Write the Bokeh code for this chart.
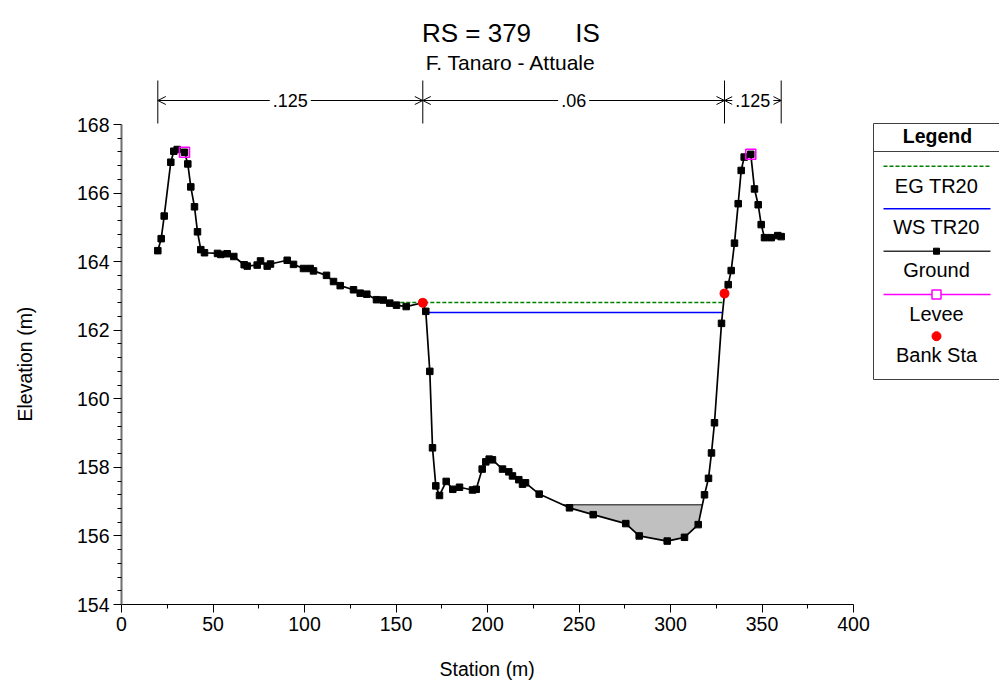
import numpy as np
from bokeh.plotting import figure
from bokeh.models import Label, Arrow, OpenHead, FixedTicker, Range1d, Title
from bokeh.embed import file_html
from bokeh.resources import INLINE

# ---------------- data ----------------
ground_sta = [19.84, 21.69, 23.33, 26.94, 28.58, 30.44, 34.43, 36.23, 37.87, 39.89,
              41.53, 43.33, 45.36, 52.46, 54.26, 57.76, 61.37, 67.05, 68.69, 74.15,
              75.96, 79.62, 81.42, 90.55, 93.99, 99.45, 103.11, 104.92, 112.02, 115.85,
              119.51, 126.78, 130.44, 134.04, 139.34, 143.01, 146.61, 150.27, 155.57, 164.64,
              166.28, 168.47, 169.95, 171.75, 173.77, 177.43, 181.04, 184.70, 191.80, 193.83,
              197.10, 199.07, 200.93, 202.73, 208.20, 211.64, 213.66, 217.10, 219.13, 220.77,
              228.25, 244.81, 257.76, 275.57, 282.90, 298.20, 307.65, 315.14, 318.58, 320.77,
              322.40, 324.04, 327.87, 329.51, 331.53, 333.17, 334.97, 336.99, 338.63, 340.27,
              343.88, 345.90, 347.92, 349.56, 351.37, 355.03, 358.63, 360.49]
ground_elev = [164.32, 164.67, 165.33, 166.90, 167.22, 167.27, 167.19, 166.85, 166.18, 165.60,
               164.87, 164.35, 164.26, 164.24, 164.21, 164.23, 164.15, 163.91, 163.87, 163.90,
               164.02, 163.87, 163.93, 164.04, 163.92, 163.80, 163.80, 163.73, 163.60, 163.42,
               163.30, 163.18, 163.08, 163.05, 162.89, 162.88, 162.79, 162.73, 162.69, 162.80,
               162.55, 160.80, 158.57, 157.46, 157.18, 157.59, 157.36, 157.42, 157.34, 157.36,
               157.95, 158.16, 158.24, 158.22, 157.95, 157.87, 157.75, 157.64, 157.51, 157.55,
               157.22, 156.82, 156.62, 156.36, 156.00, 155.85, 155.96, 156.33, 157.20, 157.68,
               158.42, 159.30, 162.20, 163.07, 163.33, 163.74, 164.54, 165.69, 166.66, 167.05,
               167.13, 166.12, 165.66, 165.08, 164.70, 164.70, 164.76, 164.73]
levee_sta = [34.43, 343.88]
levee_elev = [167.19, 167.13]
bank_sta = [164.64, 329.51]
bank_elev = [162.80, 163.07]
ws_elev = 162.52          # WS TR20
eg_elev = 162.81          # EG TR20
fill_elev = 156.91        # grey filled area level
n_values = [".125", ".06", ".125"]

x_ticks = [0, 50, 100, 150, 200, 250, 300, 350, 400]
y_ticks = [154, 156, 158, 160, 162, 164, 166, 168]
title_text = "RS = 379"
title_tag = "IS"
subtitle_text = "F. Tanaro - Attuale"
x_label = "Station (m)"
y_label = "Elevation (m)"
legend_title = "Legend"
legend_labels = ["EG TR20", "WS TR20", "Ground", "Levee", "Bank Sta"]

# ---------------- layout ----------------
W, H = 999, 682
FONT = "Liberation Sans"
FRAME_L, FRAME_R, FRAME_T, FRAME_B = 121, 999, 0, 604   # canvas pixels
XA_PX, XB_PX = 121, 853     # canvas x of first / last x tick
YB_PX, YT_PX = 604, 124     # canvas y of first / last y tick

x_per_px = (x_ticks[-1] - x_ticks[0]) / (XB_PX - XA_PX)
y_per_px = (y_ticks[-1] - y_ticks[0]) / (YB_PX - YT_PX)


def dx(px):
    return x_ticks[0] + (px - XA_PX) * x_per_px


def dy(py):
    return y_ticks[0] + (YB_PX - py) * y_per_px


p = figure(width=W, height=H, output_backend="svg", toolbar_location=None,
           x_range=Range1d(dx(FRAME_L), dx(FRAME_R)),
           y_range=Range1d(dy(FRAME_B), dy(FRAME_T)),
           min_border_left=FRAME_L, min_border_right=W - FRAME_R,
           min_border_top=FRAME_T, min_border_bottom=H - FRAME_B)
p.outline_line_color = None
p.xgrid.visible = False
p.ygrid.visible = False
p.background_fill_color = "white"
p.border_fill_color = "white"

x_minor = [(a + b) / 2 for a, b in zip(x_ticks[:-1], x_ticks[1:])]
y_minor = [a + k * (b - a) / 5 for a, b in zip(y_ticks[:-1], y_ticks[1:]) for k in range(1, 5)]

for ax, ticks, minor in ((p.xaxis[0], x_ticks, x_minor), (p.yaxis[0], y_ticks, y_minor)):
    ax.bounds = (ticks[0], ticks[-1])
    ax.ticker = FixedTicker(ticks=ticks, minor_ticks=minor)
    ax.major_tick_out = 8
    ax.major_tick_in = 0
    ax.minor_tick_out = 4
    ax.minor_tick_in = 0
    ax.major_tick_line_color = "black"
    ax.minor_tick_line_color = "black"
    ax.major_label_text_font = FONT
    ax.major_label_text_font_size = "19.5px"
    ax.major_label_text_color = "black"
p.xaxis.axis_line_color = "black"
p.yaxis.axis_line_color = "#6e6e6e"
p.yaxis.axis_line_width = 2
p.xaxis.major_label_standoff = 4
p.yaxis.major_label_standoff = 4

# axis titles as side-panel titles (spacer + text)
p.add_layout(Title(text=" ", text_font_size="10px", standoff=24), "left")
p.add_layout(Title(text=y_label, align="left", offset=FRAME_B - 421, vertical_align="middle",
                   standoff=0, text_font=FONT, text_font_size="19.5px",
                   text_font_style="normal", text_color="black"), "left")
p.add_layout(Title(text=" ", text_font_size="10px", standoff=10), "below")
p.add_layout(Title(text=x_label, align="left", offset=439 - FRAME_L, vertical_align="middle",
                   standoff=0, text_font=FONT, text_font_size="19.5px",
                   text_font_style="normal", text_color="black"), "below")

# ---------------- water extents ----------------
gs = np.array(ground_sta)
ge = np.array(ground_elev)


def wet_extent(level):
    i0 = int(np.argmin(ge))
    i = i0
    while i > 0 and ge[i - 1] <= level:
        i -= 1
    left = gs[i - 1] + (level - ge[i - 1]) * (gs[i] - gs[i - 1]) / (ge[i] - ge[i - 1])
    j = i0
    while j < len(ge) - 1 and ge[j + 1] <= level:
        j += 1
    right = gs[j] + (level - ge[j]) * (gs[j + 1] - gs[j]) / (ge[j + 1] - ge[j])
    return left, right, i, j


fl, fr, fi, fj = wet_extent(fill_elev)
poly_x = [fl] + list(gs[fi:fj + 1]) + [fr]
poly_y = [fill_elev] + list(ge[fi:fj + 1]) + [fill_elev]
p.patch(poly_x, poly_y, fill_color="#c0c0c0", line_color=None)
p.line([fl, fr], [fill_elev, fill_elev], line_color="#505050", line_width=1.5)

el, er, _, _ = wet_extent(eg_elev)
p.line([el, er], [eg_elev, eg_elev], line_color="#008000", line_width=1.5, line_dash="4 2")
wl, wr, _, _ = wet_extent(ws_elev)
p.line([wl, wr], [ws_elev, ws_elev], line_color="#0000ff", line_width=1.5)

p.line(ground_sta, ground_elev, line_color="black", line_width=1.7)
p.scatter(ground_sta, ground_elev, marker="square", size=6.5, fill_color="black", line_color="black")
p.scatter(levee_sta, levee_elev, marker="square", size=10, fill_color=None,
          line_color="#ff00ff", line_width=1.5)
p.scatter(bank_sta, bank_elev, marker="circle", size=9, fill_color="#ff0000", line_color="#ff0000")

# ---------------- Manning's n annotation ----------------
n_breaks = [ground_sta[0], bank_sta[0], bank_sta[1], ground_sta[-1]]
p.segment(x0=n_breaks, y0=[dy(80)] * 4, x1=n_breaks, y1=[dy(123)] * 4,
          line_color="black", line_width=1)
ya = dy(100)
for a, b, txt in zip(n_breaks[:-1], n_breaks[1:], n_values):
    mid = (a + b) / 2
    for end in (a, b):
        p.add_layout(Arrow(x_start=mid, y_start=ya, x_end=end, y_end=ya,
                           line_color="black", line_width=1,
                           end=OpenHead(size=8, line_color="black", line_width=1)))
    p.add_layout(Label(x=mid, y=ya, text=txt, text_align="center", text_baseline="middle",
                       text_font=FONT, text_font_size="18px", text_color="black",
                       background_fill_color="white", padding=3))

# ---------------- titles ----------------
p.add_layout(Label(x=dx(476), y=dy(32), text=title_text, text_align="center",
                   text_baseline="middle", text_font=FONT, text_font_size="26px",
                   text_color="black"))
p.add_layout(Label(x=dx(587), y=dy(32), text=title_tag, text_align="center",
                   text_baseline="middle", text_font=FONT, text_font_size="26px",
                   text_color="black"))
p.add_layout(Label(x=dx(510.5), y=dy(62), text=subtitle_text, text_align="center",
                   text_baseline="middle", text_font=FONT, text_font_size="21px",
                   text_color="black"))

# ---------------- legend (drawn) ----------------
LG_L, LG_R, LG_T, LG_B = 873, 1010, 123, 379
LG_CX = 936
p.quad(left=[dx(LG_L)], right=[dx(LG_R)], top=[dy(LG_T)], bottom=[dy(LG_B)],
       fill_color="white", line_color="#404040", line_width=1)
p.line([dx(LG_L), dx(LG_R)], [dy(151), dy(151)], line_color="#404040", line_width=1)
p.add_layout(Label(x=dx(937), y=dy(135.5), text=legend_title, text_align="center",
                   text_baseline="middle", text_font=FONT, text_font_size="19.5px",
                   text_font_style="bold", text_color="black"))
sym_y = [165.7, 208.3, 250.7, 294, 335.7]
txt_y = [185, 226.7, 269, 313.3, 354.3]
LX0, LX1 = 883, 990
p.line([dx(LX0), dx(LX1)], [dy(sym_y[0])] * 2, line_color="#008000", line_width=1.5, line_dash="4 2")
p.line([dx(LX0), dx(LX1)], [dy(sym_y[1])] * 2, line_color="#0000ff", line_width=1.5)
p.line([dx(LX0), dx(LX1)], [dy(sym_y[2])] * 2, line_color="#333333", line_width=1.6)
p.scatter([dx(LG_CX)], [dy(sym_y[2])], marker="square", size=6, fill_color="black", line_color="black")
p.line([dx(LX0), dx(LX1)], [dy(sym_y[3])] * 2, line_color="#ff00ff", line_width=1.5)
p.scatter([dx(LG_CX)], [dy(sym_y[3])], marker="square", size=9, fill_color="white",
          line_color="#ff00ff", line_width=1.5)
p.scatter([dx(LG_CX)], [dy(sym_y[4])], marker="circle", size=9, fill_color="#ff0000", line_color="#ff0000")
for lab, ty in zip(legend_labels, txt_y):
    p.add_layout(Label(x=dx(LG_CX), y=dy(ty), text=lab, text_align="center",
                       text_baseline="middle", text_font=FONT, text_font_size="20px",
                       text_color="black"))

open("out.html", "w").write(file_html(p, INLINE))
